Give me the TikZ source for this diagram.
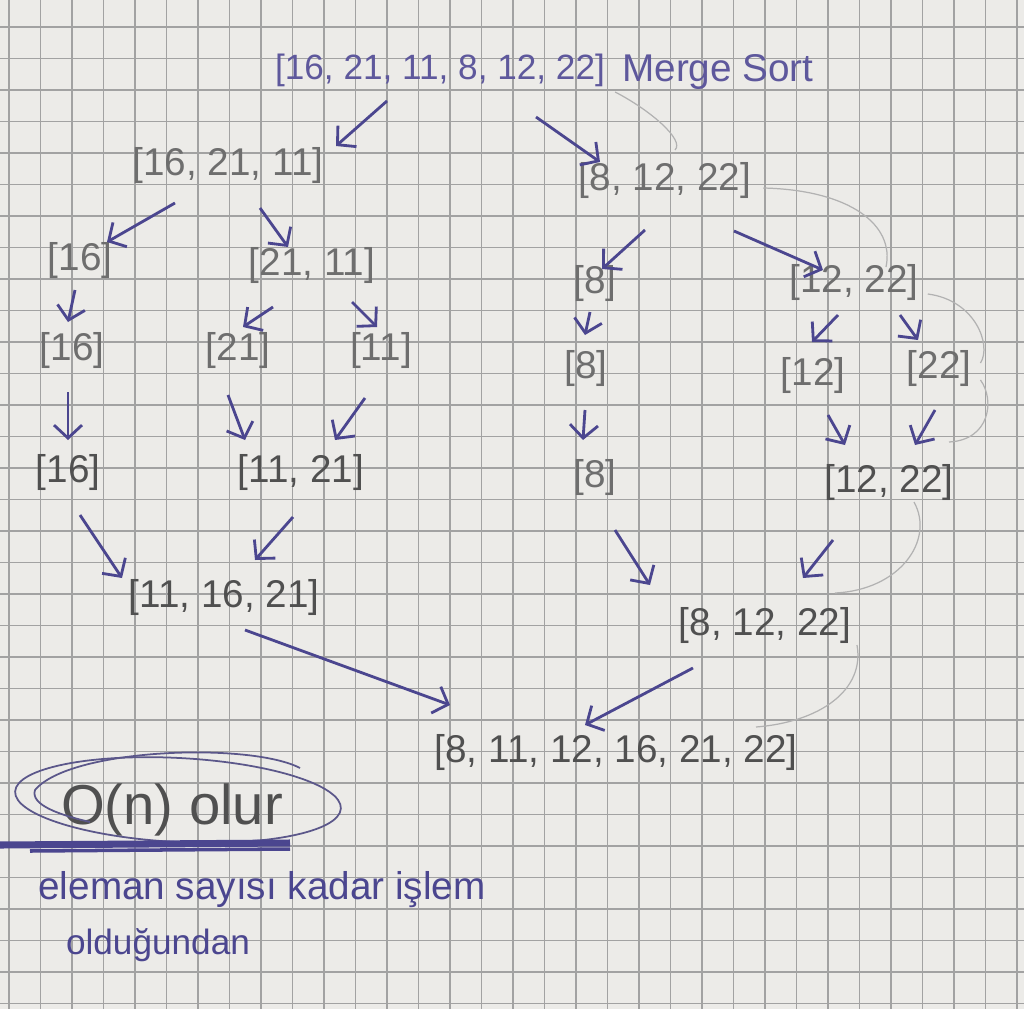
\documentclass[tikz,border=0pt]{standalone}
\usepackage{fontspec}
\setmainfont{Liberation Sans}
\usetikzlibrary{calc,arrows.meta}
\definecolor{paper}{HTML}{ECEBE8}
\definecolor{gridgray}{HTML}{A2A2A2}
\definecolor{ink}{HTML}{4B468F}
\definecolor{lightink}{HTML}{5E589C}
\definecolor{pencil}{HTML}{6E6E6E}
\definecolor{darkpencil}{HTML}{505050}
\begin{document}
\begin{tikzpicture}[x=0.01cm,y=-0.01cm]
    % Node styles
    \tikzstyle{list_style} = [text=pencil, inner sep=1pt, font=\fontsize{11}{13}\selectfont]
    \tikzstyle{note_style} = [text=ink, inner sep=1pt, font=\fontsize{11}{13}\selectfont]
    \tikzstyle{ink_arrow} = [ink, line width=0.8pt, -{Straight Barb[length=1.3mm,width=2.8mm]}]
    \tikzstyle{grid_line} = [gridgray, line width=0.45pt]
    \tikzstyle{pencil_arc} = [gray!60, line width=0.35pt]

    % Paper
    \useasboundingbox (0,0) rectangle (1024,1009);
    \fill[paper] (0,0) rectangle (1024,1009);
    \foreach \i in {0,...,32} \draw[grid_line] (9+31.5*\i,0) -- (9+31.5*\i,1009);
    \foreach \j in {0,...,31} \draw[grid_line] (0,27+31.5*\j) -- (1024,27+31.5*\j);

    % Nodes
    \node[list_style, text=lightink, font=\fontsize{10}{12}\selectfont] (top) at (440,70) {[16, 21, 11, 8, 12, 22]};
    \node[note_style, text=lightink] (title) at (718,72) {Merge Sort};
    \node[list_style] (l1) at (228,165) {[16, 21, 11]};
    \node[list_style] (r1) at (665,180) {[8, 12, 22]};
    \node[list_style] (a16) at (80,260) {[16]};
    \node[list_style] (a2111) at (312,265) {[21, 11]};
    \node[list_style] (b8) at (595,283) {[8]};
    \node[list_style] (b1222) at (854,282) {[12, 22]};
    \node[list_style] (c16) at (72,350) {[16]};
    \node[list_style] (c21) at (238,350) {[21]};
    \node[list_style] (c11) at (381,350) {[11]};
    \node[list_style] (d8) at (586,368) {[8]};
    \node[list_style] (d12) at (813,375) {[12]};
    \node[list_style] (d22) at (939,368) {[22]};
    \node[list_style, text=darkpencil] (e16) at (68,472) {[16]};
    \node[list_style, text=darkpencil] (e1121) at (301,472) {[11, 21]};
    \node[list_style] (f8) at (595,477) {[8]};
    \node[list_style, text=darkpencil] (e1222) at (889,482) {[12, 22]};
    \node[list_style, text=darkpencil] (g111621) at (224,597) {[11, 16, 21]};
    \node[list_style, text=darkpencil] (g81222) at (765,625) {[8, 12, 22]};
    \node[list_style, text=darkpencil] (final) at (616,752) {[8, 11, 12, 16, 21, 22]};

    % Notes
    \node[note_style, text=darkpencil, font=\fontsize{16}{18}\selectfont] (bigo) at (172,810) {O(n) olur};
    \node[note_style] (reason) at (262,890) {eleman sayısı kadar işlem};
    \node[note_style, font=\fontsize{10}{12}\selectfont] (reason2) at (158,945) {olduğundan};
    \draw[ink!70!gray, line width=0.5pt] (178,800) ellipse [x radius=1.63cm, y radius=0.42cm, rotate=-3];
    \draw[ink!70!gray, line width=0.5pt] (300,768) .. controls (250,742) and (70,748) .. (35,790) .. controls (30,805) and (60,815) .. (90,822);
    \draw[ink, line width=2pt] (0,845) -- (290,843);
    \draw[ink, line width=1pt] (30,851) -- (290,849);

    % Faint pencil arcs
    \draw[pencil_arc] ($(top.east)+(6,22)$) .. controls (650,110) and (685,140) .. ($(r1)+(10,-30)$);
    \draw[pencil_arc] ($(r1.east)+(8,8)$) .. controls (850,190) and (895,225) .. ($(b1222)+(32,-15)$);
    \draw[pencil_arc] ($(b1222.east)+(5,12)$) .. controls (975,300) and (992,345) .. ($(d22.east)+(5,-5)$);
    \draw[pencil_arc] ($(d22.east)+(5,12)$) .. controls (995,400) and (990,440) .. ($(e1222)+(60,-40)$);
    \draw[pencil_arc] ($(e1222)+(25,20)$) .. controls (935,540) and (900,590) .. ($(g81222)+(70,-32)$);
    \draw[pencil_arc] ($(g81222)+(92,20)$) .. controls (865,690) and (820,722) .. ($(final)+(140,-25)$);

    % Arrows
    \draw[ink_arrow] ($(top)+(-53,31)$) -- ($(l1)+(108,-19)$);
    \draw[ink_arrow] ($(top)+(96,47)$) -- ($(r1)+(-65,-18)$);
    \draw[ink_arrow] ($(l1)+(-53,38)$) -- ($(a16)+(27,-18)$);
    \draw[ink_arrow] ($(l1)+(32,43)$) -- ($(a2111)+(-24,-18)$);
    \draw[ink_arrow] ($(r1)+(-20,50)$) -- ($(b8)+(7,-14)$);
    \draw[ink_arrow] ($(r1)+(69,51)$) -- ($(b1222)+(-31,-12)$);
    \draw[ink_arrow] ($(a16)+(-5,30)$) -- ($(c16)+(-4,-28)$);
    \draw[ink_arrow] ($(a2111)+(-39,42)$) -- ($(c21)+(5,-23)$);
    \draw[ink_arrow] ($(a2111)+(40,37)$) -- ($(c11)+(-4,-23)$);
    \draw[ink_arrow] ($(b8)+(-5,29)$) -- ($(d8)+(-1,-33)$);
    \draw[ink_arrow] ($(b1222)+(-16,33)$) -- ($(d12)+(-1,-33)$);
    \draw[ink_arrow] ($(b1222)+(46,33)$) -- ($(d22)+(-21,-28)$);
    \draw[ink_arrow] ($(c16)+(-4,42)$) -- ($(e16)+(0,-32)$);
    \draw[ink_arrow] ($(c21)+(-10,45)$) -- ($(e1121)+(-56,-32)$);
    \draw[ink_arrow] ($(c11)+(-16,48)$) -- ($(e1121)+(34,-32)$);
    \draw[ink_arrow] ($(d8)+(-1,42)$) -- ($(f8)+(-12,-37)$);
    \draw[ink_arrow] ($(d12)+(15,40)$) -- ($(e1222)+(-44,-37)$);
    \draw[ink_arrow] ($(d22)+(-4,42)$) -- ($(e1222)+(26,-37)$);
    \draw[ink_arrow] ($(e16)+(12,43)$) -- ($(g111621)+(-102,-19)$);
    \draw[ink_arrow] ($(e1121)+(-8,45)$) -- ($(g111621)+(31,-37)$);
    \draw[ink_arrow] ($(f8)+(20,53)$) -- ($(g81222)+(-115,-40)$);
    \draw[ink_arrow] ($(e1222)+(-56,58)$) -- ($(g81222)+(38,-47)$);
    \draw[ink_arrow] ($(g111621)+(21,33)$) -- ($(final)+(-166,-47)$);
    \draw[ink_arrow] ($(g81222)+(-72,43)$) -- ($(final)+(-31,-27)$);
\end{tikzpicture}
\end{document}
